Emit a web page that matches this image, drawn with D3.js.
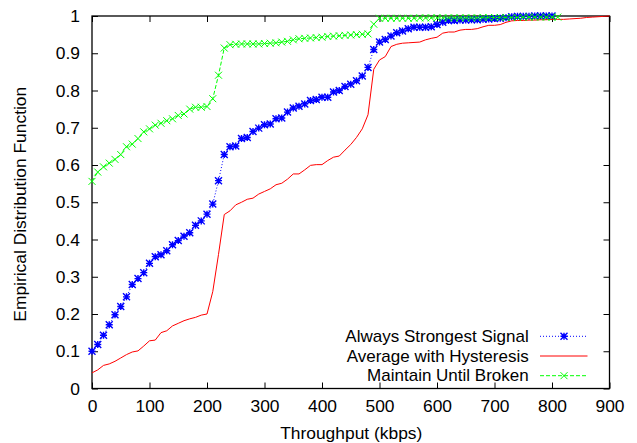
<!DOCTYPE html>
<html>
<head>
<meta charset="utf-8">
<script src="https://cdn.jsdelivr.net/npm/d3@7"></script>
<style>
  html, body { margin: 0; padding: 0; background: #fff; }
  svg { display: block; }
  text { font-family: "Liberation Sans", Arial, Helvetica, sans-serif; fill: #000; }
</style>
</head>
<body>
<svg id="chart" width="637" height="443"></svg>
<script>
// ---- Data ----
const xTicks = [0, 100, 200, 300, 400, 500, 600, 700, 800, 900];
const yTicks = [0, 0.1, 0.2, 0.3, 0.4, 0.5, 0.6, 0.7, 0.8, 0.9, 1];
const seriesNames = ["Always Strongest Signal", "Average with Hysteresis", "Maintain Until Broken"];
const xLabel = "Throughput (kbps)";
const yLabel = "Empirical Distribution Function";

const strongestX = [0,10,20,30,40,50,60,70,80,90,100,110,120,130,140,150,160,170,180,190,200,210,220,230,240,250,260,270,280,290,300,310,320,330,340,350,360,370,380,390,400,410,420,430,440,450,460,470,480,490,500,510,520,530,540,550,560,570,580,590,600,610,620,630,640,650,660,670,680,690,700,710,720,730,740,750,760,770,780,790,800];
const strongestY = [0.100,0.118,0.143,0.171,0.198,0.220,0.246,0.279,0.295,0.311,0.336,0.354,0.359,0.370,0.386,0.397,0.409,0.418,0.438,0.450,0.468,0.495,0.558,0.628,0.649,0.651,0.671,0.674,0.690,0.699,0.708,0.710,0.724,0.726,0.742,0.753,0.758,0.764,0.773,0.776,0.782,0.782,0.796,0.800,0.811,0.817,0.826,0.839,0.862,0.910,0.930,0.937,0.946,0.955,0.960,0.966,0.970,0.970,0.970,0.971,0.977,0.983,0.988,0.988,0.989,0.989,0.990,0.990,0.991,0.992,0.993,0.994,0.995,0.998,0.999,0.999,0.999,1.000,1.000,1.000,1.000];

const hysteresisX = [0,10,20,30,40,50,60,70,80,90,100,110,120,130,140,150,160,170,180,190,200,210,220,230,240,250,260,270,280,290,300,310,320,330,340,350,360,370,380,390,400,410,420,430,440,450,460,470,480,490,500,510,520,530,540,550,560,570,580,590,600,610,620,630,640,650,660,670,680,690,700,710,720,730,740,750,760,770,780,790,800,810,820,830,840,850,860,870,880,890,900];
const hysteresisY = [0.042,0.050,0.062,0.066,0.073,0.082,0.091,0.098,0.101,0.114,0.128,0.130,0.150,0.155,0.168,0.175,0.182,0.187,0.191,0.197,0.200,0.260,0.360,0.467,0.477,0.493,0.500,0.508,0.511,0.522,0.529,0.536,0.547,0.551,0.562,0.576,0.576,0.587,0.599,0.601,0.601,0.612,0.621,0.624,0.640,0.655,0.674,0.697,0.735,0.857,0.882,0.891,0.918,0.924,0.927,0.928,0.929,0.930,0.936,0.940,0.943,0.954,0.957,0.957,0.962,0.964,0.964,0.966,0.971,0.975,0.975,0.977,0.983,0.987,0.988,0.988,0.989,0.989,0.990,0.990,0.991,0.991,0.991,0.992,0.993,0.994,0.996,0.997,0.998,0.999,1.000];

const maintainX = [0,10,20,30,40,50,60,70,80,90,100,110,120,130,140,150,160,170,180,190,200,210,220,230,240,250,260,270,280,290,300,310,320,330,340,350,360,370,380,390,400,410,420,430,440,450,460,470,480,490,500,510,520,530,540,550,560,570,580,590,600,610,620,630,640,650,660,670,680,690,700,710,720,730,740,750,760,770,780,790,800,810];
const maintainY = [0.556,0.581,0.595,0.605,0.615,0.628,0.649,0.656,0.671,0.689,0.697,0.707,0.712,0.719,0.724,0.733,0.737,0.750,0.755,0.755,0.757,0.778,0.841,0.914,0.923,0.924,0.925,0.925,0.925,0.925,0.926,0.927,0.928,0.930,0.932,0.936,0.939,0.940,0.941,0.942,0.943,0.945,0.946,0.947,0.948,0.949,0.950,0.951,0.952,0.978,0.994,0.994,0.994,0.994,0.994,0.994,0.994,0.995,0.995,0.995,0.995,0.995,0.995,0.995,0.995,0.995,0.995,0.995,0.996,0.996,0.996,0.996,0.996,0.996,0.996,0.997,0.997,0.997,0.997,0.997,0.997,0.997];

// ---- Layout ----
const FONT = 17.4;
const LEG_FONT = 17;
const mLeft = 92, mRight = 609.5, mTop = 16, mBottom = 388.5;
const svg = d3.select("#chart");
const x = d3.scaleLinear().domain([0, 900]).range([mLeft, mRight]);
const y = d3.scaleLinear().domain([0, 1]).range([mBottom, mTop]);

const fmtY = d => (d === 0 || d === 1) ? String(d) : d3.format(".1f")(d);

// axes (inward ticks, mirrored)
const gB = svg.append("g").attr("transform", `translate(0,${mBottom})`)
  .call(d3.axisBottom(x).tickValues(xTicks).tickSizeInner(-6).tickSizeOuter(0).tickPadding(11.5).tickFormat(d3.format("d")));
const gT = svg.append("g").attr("transform", `translate(0,${mTop})`)
  .call(d3.axisTop(x).tickValues(xTicks).tickSizeInner(-6).tickSizeOuter(0).tickFormat(""));
const gL = svg.append("g").attr("transform", `translate(${mLeft},0)`)
  .call(d3.axisLeft(y).tickValues(yTicks).tickSizeInner(-6).tickSizeOuter(0).tickPadding(12).tickFormat(fmtY));
const gR = svg.append("g").attr("transform", `translate(${mRight},0)`)
  .call(d3.axisRight(y).tickValues(yTicks).tickSizeInner(-6).tickSizeOuter(0).tickFormat(""));
[gB, gT, gL, gR].forEach(g => {
  g.select(".domain").remove();
  g.selectAll(".tick line").attr("stroke", "#000").attr("stroke-width", 1);
  g.selectAll("text").attr("font-size", FONT).attr("font-family", '"Liberation Sans", Arial, sans-serif').attr("fill", "#000");
});
svg.append("rect").attr("x", mLeft).attr("y", mTop).attr("width", mRight - mLeft).attr("height", mBottom - mTop)
  .attr("fill", "none").attr("stroke", "#000").attr("stroke-width", 1.3);

// axis titles
svg.append("text").attr("x", (mLeft + mRight) / 2 + 0.5).attr("y", 439)
  .attr("text-anchor", "middle").attr("font-size", FONT).text(xLabel);
svg.append("text").attr("transform", `translate(26,${(mTop + mBottom) / 2 + 2}) rotate(-90)`)
  .attr("text-anchor", "middle").attr("font-size", FONT).text(yLabel);

// series
const toPts = (xs, ys) => xs.map((v, i) => [v, ys[i]]);
const line = d3.line().x(d => x(d[0])).y(d => y(d[1]));
const plot = svg.append("g");

const series = [
  { name: seriesNames[0], pts: toPts(strongestX, strongestY), color: "#0000ff", dash: "1,2", marker: "star", mw: 1.4 },
  { name: seriesNames[1], pts: toPts(hysteresisX, hysteresisY), color: "#ff0000", dash: null, marker: null, mw: 1 },
  { name: seriesNames[2], pts: toPts(maintainX, maintainY), color: "#00ff00", dash: "4,2", marker: "cross", mw: 1 }
];

const R = 3.5;
function drawMarker(g, cx, cy, type, color, w) {
  let p = `M${cx - R},${cy - R}L${cx + R},${cy + R}M${cx - R},${cy + R}L${cx + R},${cy - R}`;
  if (type === "star") p += `M${cx - R},${cy}L${cx + R},${cy}M${cx},${cy - R}L${cx},${cy + R}`;
  g.append("path").attr("d", p).attr("stroke", color).attr("stroke-width", w).attr("fill", "none");
}

series.forEach(s => {
  const path = plot.append("path").datum(s.pts).attr("d", line)
    .attr("fill", "none").attr("stroke", s.color).attr("stroke-width", 1);
  if (s.dash) path.attr("stroke-dasharray", s.dash);
  if (s.marker) {
    const mg = plot.append("g");
    s.pts.forEach(d => drawMarker(mg, x(d[0]), y(d[1]), s.marker, s.color, s.mw));
  }
});

// legend
const legRows = [336.3, 356, 375.7];
const lg = svg.append("g");
series.forEach((s, i) => {
  const cy = legRows[i];
  lg.append("text").attr("x", 528.7).attr("y", cy + 5.7).attr("text-anchor", "end")
    .attr("font-size", LEG_FONT).text(s.name);
  const l = lg.append("line").attr("x1", 540).attr("x2", 587.5).attr("y1", cy).attr("y2", cy)
    .attr("stroke", s.color).attr("stroke-width", 1);
  if (s.dash) l.attr("stroke-dasharray", s.dash);
  if (s.marker) drawMarker(lg, 564, cy, s.marker, s.color, s.mw);
});
</script>
</body>
</html>
